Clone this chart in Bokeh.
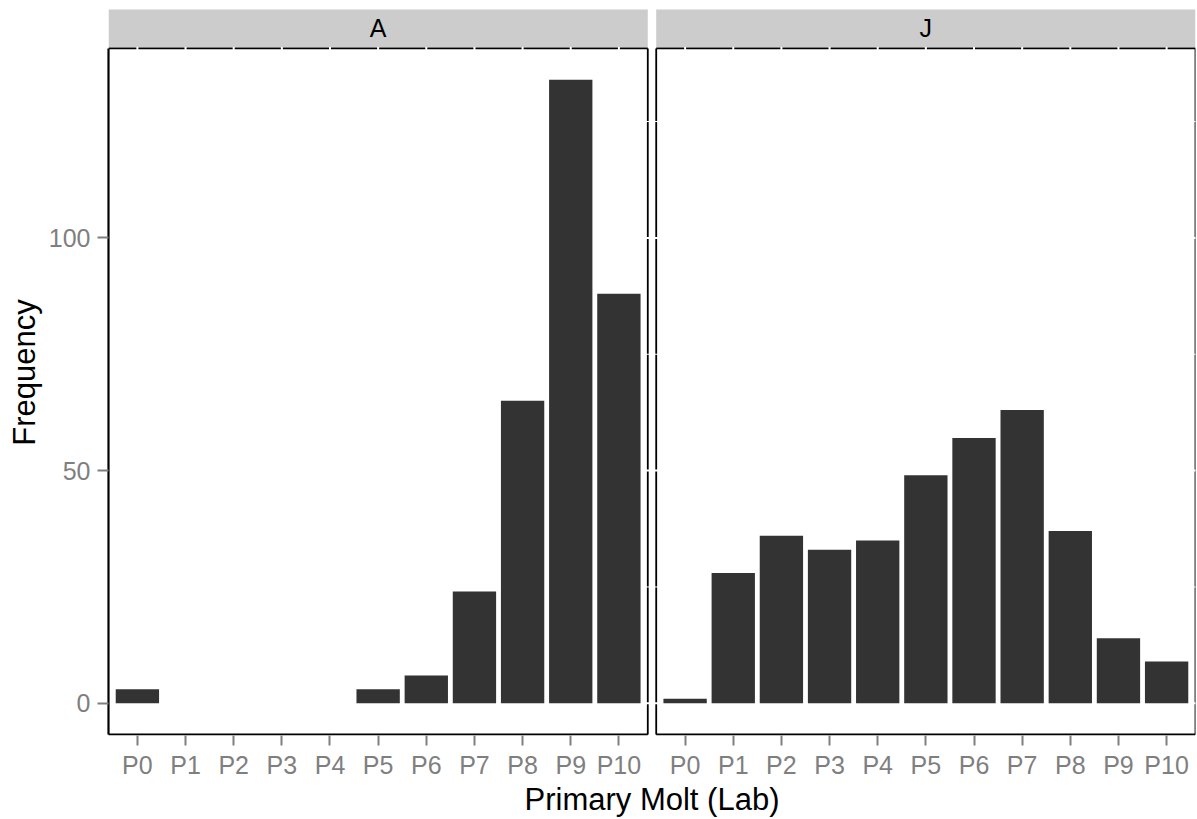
from bokeh.plotting import figure
from bokeh.models import Range1d, FixedTicker
from bokeh.core.properties import value
from bokeh.embed import file_html
from bokeh.resources import INLINE

# ---------------- data ----------------
categories = ["P0", "P1", "P2", "P3", "P4", "P5", "P6", "P7", "P8", "P9", "P10"]
panels = ["A", "J"]
freq_A = [3, 0, 0, 0, 0, 3, 6, 24, 65, 134, 88]
freq_J = [1, 28, 36, 33, 35, 49, 57, 63, 37, 14, 9]
y_ticks = [0, 50, 100]
y_minor = [25, 75, 125]
x_title = "Primary Molt (Lab)"
y_title = "Frequency"

# ---------------- layout ----------------
FONT = "Liberation Sans"
GREY_TXT = "#7F7F7F"
PAD = 0.6          # discrete expansion
GAP = 0.175        # space between panels (in category units)
BAR_W = 0.9
n = len(categories)
span = n - 1 + 2 * PAD
offsets = [0.0, span + GAP]

ymax = max(max(freq_A), max(freq_J))
lo, hi = -0.05 * ymax, 1.05 * ymax
frame_top_px, panel_top_px, frame_bot_px = 9, 48, 736
ppu = (735 - panel_top_px) / (hi - lo)
y_end = hi + (panel_top_px - frame_top_px) / ppu
y_start = lo - (frame_bot_px - 735) / ppu

x_start = 1 - PAD
x_end = offsets[1] + n + PAD

p = figure(width=1197, height=819, output_backend="svg", toolbar_location=None,
           x_range=Range1d(x_start, x_end), y_range=Range1d(y_start, y_end),
           min_border_left=108, min_border_right=2, min_border_top=frame_top_px,
           min_border_bottom=819 - frame_bot_px)
p.outline_line_color = None
p.grid.visible = False
p.background_fill_color = "white"
p.border_fill_color = "white"

series = [freq_A, freq_J]
for k, (name, vals) in enumerate(zip(panels, series)):
    off = offsets[k]
    xs = [off + i + 1 for i in range(n)]
    x0, x1 = off + 1 - PAD, off + n + PAD
    # strip
    sb = hi + 1.3 / ppu
    p.quad(left=[x0], right=[x1], bottom=[sb], top=[y_end + 5], fill_color="#CCCCCC", line_color=None)
    p.text(x=[(x0 + x1) / 2], y=[(sb + y_end) / 2], text=[name], text_align="center",
           text_baseline="middle", text_font=value(FONT), text_font_size="25px", text_color="black")
    # borders (under grid lines)
    bx0 = [x0, x1]
    by0 = [hi, lo]
    bx1 = [x1, x1]
    by1 = [hi, hi]
    if k > 0:
        bx0.append(x0); by0.append(lo); bx1.append(x0); by1.append(hi)
    p.segment(x0=bx0, y0=by0, x1=bx1, y1=by1, line_color="black", line_width=1.8)
    # white grid lines
    ext = 2.5 / 48.0
    p.segment(x0=[x0 - ext] * len(y_minor), y0=y_minor, x1=[x1 + ext] * len(y_minor), y1=y_minor,
              line_color="white", line_width=1.0)
    p.segment(x0=[x0 - ext] * len(y_ticks), y0=y_ticks, x1=[x1 + ext] * len(y_ticks), y1=y_ticks,
              line_color="white", line_width=2.0)
    p.segment(x0=xs, y0=[lo] * n, x1=xs, y1=[hi + 0.3] * n, line_color="white", line_width=2.0)
    # bars
    p.vbar(x=xs, top=vals, bottom=0, width=BAR_W, fill_color="#333333", line_color=None)
    # x axis line for this panel
    p.segment(x0=[x0 - (0.1 if k == 0 else 0)], y0=[lo], x1=[x1], y1=[lo], line_color="black", line_width=2)

# axes
tick_vals = [offsets[k] + i + 1 for k in range(len(panels)) for i in range(n)]
overrides = {offsets[k] + i + 1: categories[i] for k in range(len(panels)) for i in range(n)}
xa = p.xaxis[0]
xa.ticker = FixedTicker(ticks=tick_vals, minor_ticks=[])
xa.major_label_overrides = overrides
xa.axis_line_color = None
xa.major_tick_line_color = GREY_TXT
xa.major_tick_line_width = 2
xa.major_tick_out = 10
xa.major_tick_in = 0
xa.minor_tick_out = 0
xa.minor_tick_in = 0
xa.major_label_text_font = FONT
xa.major_label_text_font_size = "25px"
xa.major_label_text_color = GREY_TXT
xa.major_label_standoff = 5
xa.axis_label = x_title
xa.axis_label_text_font = FONT
xa.axis_label_text_font_size = "31px"
xa.axis_label_text_font_style = "normal"
xa.axis_label_text_color = "black"
xa.axis_label_standoff = 0

ya = p.yaxis[0]
ya.ticker = FixedTicker(ticks=y_ticks, minor_ticks=[])
ya.bounds = (lo, hi)
ya.axis_line_color = "black"
ya.axis_line_width = 2.2
ya.major_tick_line_color = GREY_TXT
ya.major_tick_line_width = 2
ya.major_tick_out = 11
ya.major_tick_in = 0
ya.minor_tick_out = 0
ya.minor_tick_in = 0
ya.major_label_text_font = FONT
ya.major_label_text_font_size = "25px"
ya.major_label_text_color = GREY_TXT
ya.major_label_standoff = 7
ya.axis_label = y_title
ya.axis_label_text_font = FONT
ya.axis_label_text_font_size = "31px"
ya.axis_label_text_font_style = "normal"
ya.axis_label_text_color = "black"
ya.axis_label_standoff = 4

open("out.html", "w").write(file_html(p, INLINE))
